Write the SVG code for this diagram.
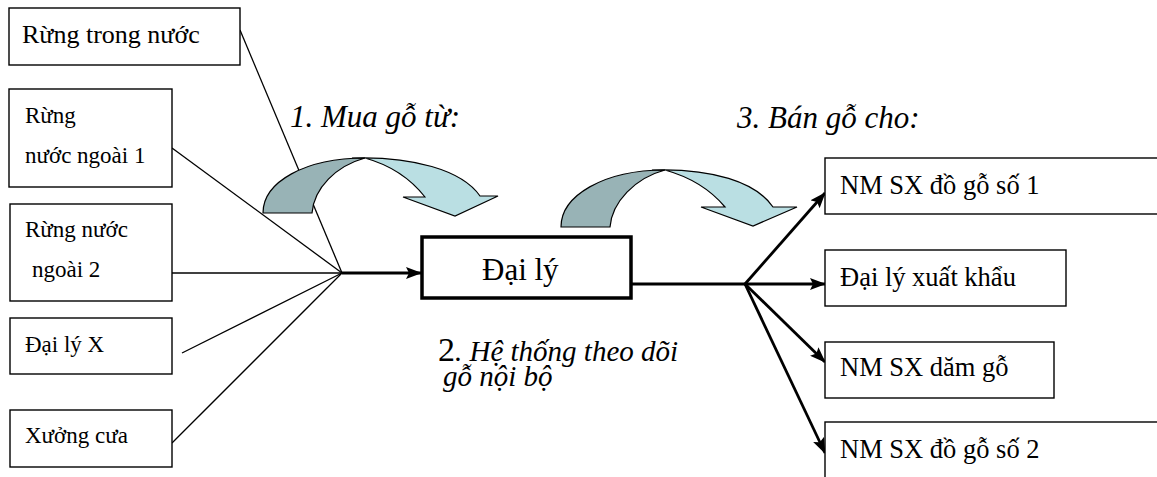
<svg xmlns="http://www.w3.org/2000/svg" width="1157" height="477" viewBox="0 0 1157 477">
  <style>
    .box { fill: #fff; stroke: #000; stroke-width: 1.4; }
    .main { fill: #fff; stroke: #000; stroke-width: 3.5; }
    .t { font-family: "Liberation Serif", Tinos, "Times New Roman", Times, "DejaVu Serif", serif; fill: #000; }
    .lbl { font-family: "Liberation Serif", Tinos, "Times New Roman", Times, "DejaVu Serif", serif; font-style: italic; fill: #000; }
    .buyer { font-size: 26.5px; }
    .thin { stroke: #000; stroke-width: 1.3; fill: none; }
    .thick { stroke: #000; stroke-width: 2.8; fill: none; }
    .back { fill: #98b3b6; stroke: #000; stroke-width: 1.2; }
    .front { fill: #badfe3; stroke: #000; stroke-width: 1.2; }
  </style>
  <defs>
    <marker id="head" markerUnits="userSpaceOnUse" markerWidth="16" markerHeight="12" refX="15" refY="6" orient="auto">
      <path d="M0,0 L16,6 L0,12 L3,6 Z" fill="#000"/>
    </marker>
  </defs>
  <rect width="1157" height="477" fill="#fff"/>

  <!-- connectors -->
  <g id="connectors">
    <line class="thin" x1="240" y1="30" x2="342" y2="273"/>
    <line class="thin" x1="172" y1="148" x2="342" y2="273"/>
    <line class="thin" x1="172" y1="273" x2="342" y2="273"/>
    <line class="thin" x1="182" y1="353" x2="342" y2="273"/>
    <line class="thin" x1="172" y1="443" x2="342" y2="273"/>
    <line class="thick" x1="342" y1="273" x2="421" y2="273" marker-end="url(#head)"/>
    <line class="thick" x1="631" y1="284" x2="745" y2="284"/>
    <line class="thick" x1="745" y1="284" x2="825" y2="193" marker-end="url(#head)"/>
    <line class="thick" x1="745" y1="284" x2="825" y2="284" marker-end="url(#head)"/>
    <line class="thick" x1="745" y1="284" x2="825" y2="362" marker-end="url(#head)"/>
    <line class="thick" x1="745" y1="284" x2="825" y2="453" marker-end="url(#head)"/>
  </g>

  <!-- curved arrow: buying -->
  <g id="arrow-buy">
    <path class="back" d="M263,213 C263,182 305,158 365,158 C 336,166 314,188 312,213 Z"/>
    <path class="front" d="M352,158 C412,156 462,170 480,196 L498,196 L455,216 L403,197 L425,197 C410,178 390,165 365,158 Z"/>
  </g>

  <!-- curved arrow: selling -->
  <g id="arrow-sell">
    <path class="back" d="M561,227 C561,196 603,170 665,170 C 635,178 612,202 610,227 Z"/>
    <path class="front" d="M652,170 C712,168 756,182 773,207 L797,207 L753,226 L701,207 L725,207 C710,189 690,177 665,170 Z"/>
  </g>

  <!-- sources -->
  <g id="rung-trong-nuoc">
    <rect class="box" x="9" y="8" width="231" height="57"/>
    <text class="t" x="22" y="43" font-size="26">Rừng trong nước</text>
  </g>
  <g id="rung-nuoc-ngoai-1">
    <rect class="box" x="9" y="89" width="163" height="98"/>
    <text class="t" x="25" y="123" font-size="23">Rừng</text>
    <text class="t" x="25" y="163" font-size="23">nước ngoài 1</text>
  </g>
  <g id="rung-nuoc-ngoai-2">
    <rect class="box" x="10" y="204" width="162" height="97"/>
    <text class="t" x="25" y="237" font-size="23">Rừng nước</text>
    <text class="t" x="32" y="277" font-size="23">ngoài 2</text>
  </g>
  <g id="dai-ly-x">
    <rect class="box" x="10" y="318" width="162" height="56"/>
    <text class="t" x="25" y="352" font-size="23">Đại lý X</text>
  </g>
  <g id="xuong-cua">
    <rect class="box" x="10" y="410" width="162" height="57"/>
    <text class="t" x="25" y="443" font-size="23">Xưởng cưa</text>
  </g>

  <!-- agent -->
  <g id="dai-ly">
    <rect class="main" x="422" y="237" width="209" height="61"/>
    <text class="t" x="482" y="280" font-size="31">Đại lý</text>
  </g>

  <!-- buyers -->
  <g id="nm-do-go-1">
    <rect class="box" x="825" y="158" width="340" height="56"/>
    <text class="t buyer" x="840" y="194">NM SX đồ gỗ số 1</text>
  </g>
  <g id="dai-ly-xuat-khau">
    <rect class="box" x="825" y="250" width="241" height="56"/>
    <text class="t buyer" x="840" y="286">Đại lý xuất khẩu</text>
  </g>
  <g id="nm-dam-go">
    <rect class="box" x="825" y="342" width="229" height="56"/>
    <text class="t buyer" x="840" y="376">NM SX dăm gỗ</text>
  </g>
  <g id="nm-do-go-2">
    <rect class="box" x="825" y="422" width="340" height="70"/>
    <text class="t buyer" x="840" y="458">NM SX đồ gỗ số 2</text>
  </g>

  <!-- step labels -->
  <text class="lbl" x="290" y="127" font-size="31">1. Mua gỗ từ:</text>
  <text class="lbl" x="737" y="128" font-size="31">3. Bán gỗ cho:</text>
  <text class="t" x="438" y="361" font-size="34">2<tspan class="lbl" font-size="29">. Hệ thống theo dõi</tspan></text>
  <text class="lbl" x="443" y="386" font-size="29">gỗ nội bộ</text>
</svg>
